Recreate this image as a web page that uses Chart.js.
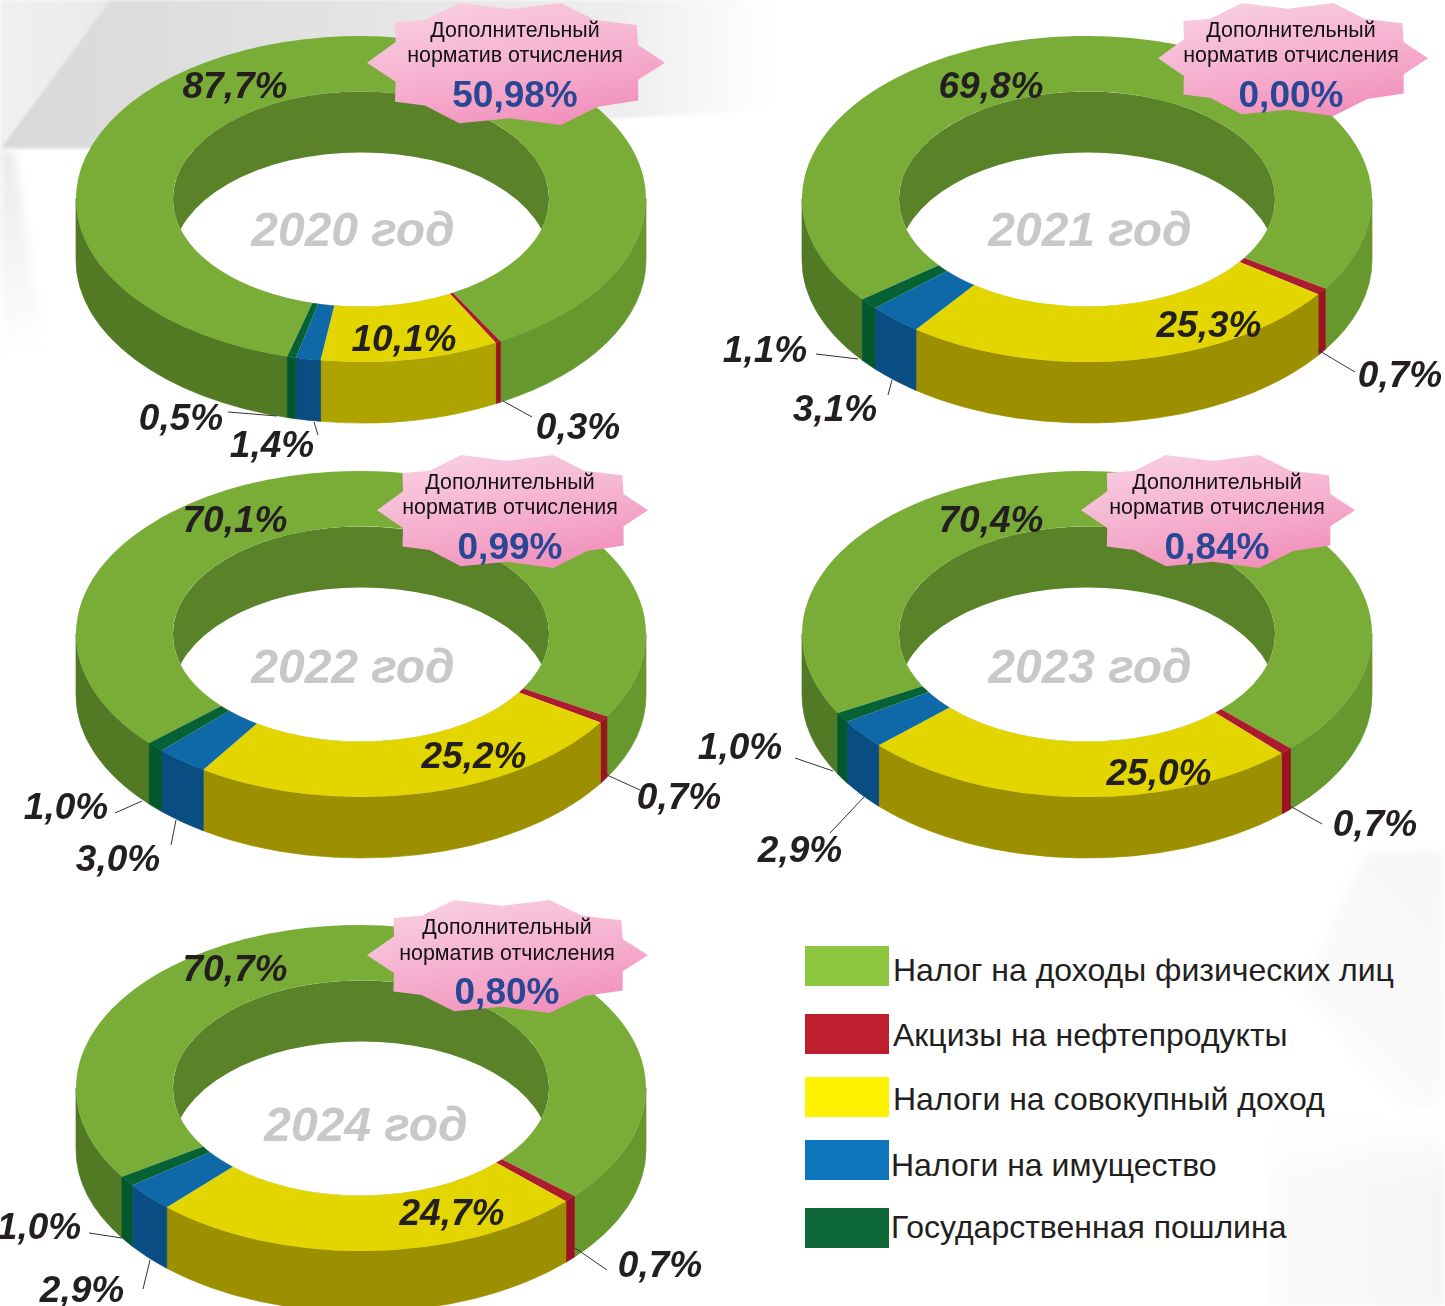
<!DOCTYPE html>
<html lang="ru">
<head>
<meta charset="utf-8">
<title>Налоговые доходы</title>
<script src="https://cdn.jsdelivr.net/npm/chart.js@4"></script>
<style>
  html, body { margin: 0; padding: 0; background: #fff; }
  #page { position: relative; width: 1445px; height: 1306px; overflow: hidden; background: #fff; font-family: "Liberation Sans", Arial, sans-serif; }
  .bg { position: absolute; }
  .bg div { width: 100%; height: 100%; }
  canvas { position: absolute; }
  .star { position: absolute; background: linear-gradient(170deg, #f9d3e4 0%, #f5aecd 55%, #f086b6 100%);
    clip-path: polygon(0% 49%, 9.6% 32%, 9.4% 16%, 19.4% 14%, 31% 0%, 48% 5%, 65% 0%, 76.5% 14%, 90.5% 18%, 91% 34.5%, 100% 49%, 91% 63%, 91% 80%, 77.5% 85%, 65% 100%, 48% 94.5%, 31% 98.5%, 19.4% 84%, 9.4% 81%, 9.6% 64.5%); }
  .note { position: absolute; transform: translate(-50%, -50%); white-space: nowrap; color: #111; font-size: 21.4px; }
  .norm { position: absolute; transform: translate(-50%, -50%); white-space: nowrap; color: #2a4796; font-size: 37px; font-weight: bold; }
  .pct { position: absolute; transform: translate(-50%, -50%); white-space: nowrap; color: #231f20; font-size: 37px; font-weight: bold; font-style: italic; }
  .year { position: absolute; transform: translate(-50%, -50%); white-space: nowrap; color: #c8c8c8; font-size: 48px; font-weight: bold; font-style: italic; }
  .swatch { position: absolute; left: 805px; width: 84px; height: 40px; }
  .leg { position: absolute; transform: translateY(-50%); white-space: nowrap; color: #231f20; font-size: 32px; }
</style>
</head>
<body>
<div id="page">
  <div class="bg" style="left:0;top:0;width:120px;height:150px;filter:blur(1.5px)"><div style="background:linear-gradient(90deg,#f0f0f0,#e9e9e9);clip-path:polygon(0 0,92% 0,0 98%)"></div></div>
  <div class="bg" style="left:0;top:0;width:800px;height:150px;filter:blur(1.5px)"><div style="background:linear-gradient(90deg,#d8d8d8 0%,#e2e2e2 40%,#eeeeee 78%,#ffffff 97%);clip-path:polygon(13.7% 0,100% 0,100% 72%,11% 99%,0 99%)"></div></div>
  <div class="bg" style="left:0;top:150px;width:70px;height:210px;filter:blur(5px)"><div style="background:linear-gradient(180deg,#e9e9e9,#ffffff);clip-path:polygon(0 0,20% 0,65% 100%,0 100%)"></div></div>
  <div class="bg" style="left:1290px;top:850px;width:155px;height:265px;filter:blur(6px)"><div style="background:linear-gradient(225deg,#f6f6f6,#fafafa 60%,#ffffff);clip-path:polygon(100% 0,100% 98%,73% 98%,5% 55%,50% 0)"></div></div>
  <div class="bg" style="left:1270px;top:1110px;width:175px;height:196px;filter:blur(3px)"><div style="background:linear-gradient(90deg,#fbfbfb,#f5f5f5);-webkit-mask-image:linear-gradient(180deg,transparent,#000 40%);mask-image:linear-gradient(180deg,transparent,#000 40%)"></div></div>
</div>
<script>
const categories = ['Налог на доходы физических лиц', 'Акцизы на нефтепродукты', 'Налоги на совокупный доход', 'Налоги на имущество', 'Государственная пошлина'];
const years = ['2020 год', '2021 год', '2022 год', '2023 год', '2024 год'];

const values2020 = [87.7, 0.3, 10.1, 1.4, 0.5];
const values2021 = [69.8, 0.7, 25.3, 3.1, 1.1];
const values2022 = [70.1, 0.7, 25.2, 3.0, 1.0];
const values2023 = [70.4, 0.7, 25.0, 2.9, 1.0];
const values2024 = [70.7, 0.7, 24.7, 2.9, 1.0];
const extraNorms = ['50,98%', '0,00%', '0,99%', '0,84%', '0,80%'];
const noteTitle = ['Дополнительный', 'норматив отчисления'];

const legendColors = ['#8dc63f', '#be1e2d', '#fff200', '#0f75bc', '#0f6838'];
const topColors = ['#7aad37', '#ab1c2c', '#e3d500', '#0f68a8', '#066234'];
const innerWall = '#5a8228';

// layout of the five rings, page pixels
const R = 285, SQUASH = 0.572, DEPTH = 61, BOX = 600;
const rings = [
  { values: values2020, cx: 361, cy: 199, rotation: 195, yellowWall: '#aea300', yearAt: [353, 229],
    star: [367, 3, 298, 122], noteAt: [515, 30, 55, 95],
    labels: [[235, 86], [578, 427], [404, 339], [272, 445], [181, 418]],
    leaders: [[503, 401, 532, 417], [314, 422, 318, 435], [228, 412, 277, 416]] },
  { values: values2021, cx: 1087, cy: 199, rotation: 232, yellowWall: '#9c9000', yearAt: [1090, 229],
    star: [1158, 3, 270, 113], noteAt: [1291, 30, 55, 95],
    labels: [[991, 86], [1400, 375], [1209, 325], [835, 409], [765, 350]],
    leaders: [[1318, 350, 1355, 372], [892, 380, 888, 395], [816, 354, 858, 359]] },
  { values: values2022, cx: 361, cy: 634, rotation: 228, yellowWall: '#9c9000', yearAt: [353, 666],
    star: [377, 455, 271, 113], noteAt: [510, 482, 507, 547],
    labels: [[235, 520], [679, 797], [474, 756], [118, 859], [66, 807]],
    leaders: [[607, 775, 640, 790], [176, 820, 171, 845], [115, 813, 142, 801]] },
  { values: values2023, cx: 1087, cy: 634, rotation: 241, yellowWall: '#9c9000', yearAt: [1090, 666],
    star: [1081, 455, 274, 113], noteAt: [1217, 482, 507, 547],
    labels: [[991, 520], [1375, 824], [1159, 773], [800, 850], [740, 747]],
    leaders: [[1290, 806, 1322, 824], [864, 797, 830, 833], [795, 758, 833, 771]] },
  { values: values2024, cx: 361, cy: 1088, rotation: 237, yellowWall: '#9c9000', yearAt: [366, 1124],
    star: [367, 900, 281, 113], noteAt: [507, 927, 953, 992],
    labels: [[235, 969], [660, 1265], [452, 1213], [82, 1290], [39, 1227]],
    leaders: [[575, 1248, 607, 1270], [150, 1260, 143, 1289], [89, 1233, 122, 1238]] }
];

const legendRows = [
  { top: 946, textX: 893, textY: 970 },
  { top: 1014, textX: 893, textY: 1035 },
  { top: 1077, textX: 893, textY: 1099 },
  { top: 1140, textX: 891, textY: 1165 },
  { top: 1208, textX: 891, textY: 1227 }
];

const page = document.getElementById('page');

function addText(cls, text, x, y) {
  const el = document.createElement('div');
  el.className = cls;
  el.textContent = text;
  el.style.left = x + 'px';
  el.style.top = y + 'px';
  page.appendChild(el);
  return el;
}

// extrudes the doughnut and flattens the library's own draw of the top face
const ring3d = {
  id: 'ring3d',
  beforeDatasetsDraw(chart, args, opts) {
    const ctx = chart.ctx;
    const arcs = chart.getDatasetMeta(0).data;
    const cx = arcs[0].x, cy = arcs[0].y;
    const inner = arcs[0].innerRadius;

    const green = ctx.createLinearGradient(cx - R, 0, cx + R, 0);
    green.addColorStop(0, '#527a24');
    green.addColorStop(0.45, '#527a24');
    green.addColorStop(0.75, '#66982e');
    green.addColorStop(1, '#66982e');
    const walls = [green, '#9b1321', opts.yellowWall, '#0a4d82', '#03572c'];

    // outer wall, only the front half of each slice can be seen
    arcs.forEach((arc, i) => {
      const ry = arc.outerRadius * SQUASH;
      for (let k = -1; k <= 2; k++) {
        const lo = Math.max(arc.startAngle, k * 2 * Math.PI);
        const hi = Math.min(arc.endAngle, k * 2 * Math.PI + Math.PI);
        if (hi <= lo) continue;
        ctx.beginPath();
        ctx.ellipse(cx, cy, arc.outerRadius, ry, 0, lo, hi);
        ctx.ellipse(cx, cy + DEPTH, arc.outerRadius, ry, 0, hi, lo, true);
        ctx.closePath();
        ctx.fillStyle = walls[i];
        ctx.strokeStyle = walls[i];
        ctx.lineWidth = 0.7;
        ctx.fill();
        ctx.stroke();
      }
    });

    // back wall seen through the hole, then the see-through part
    ctx.save();
    ctx.beginPath();
    ctx.ellipse(cx, cy, inner, inner * SQUASH, 0, 0, Math.PI * 2);
    ctx.clip();
    ctx.fillStyle = innerWall;
    ctx.fillRect(cx - R, cy - R, R * 2, R * 2);
    ctx.globalCompositeOperation = 'destination-out';
    ctx.beginPath();
    ctx.ellipse(cx, cy + DEPTH, inner, inner * SQUASH, 0, 0, Math.PI * 2);
    ctx.fillStyle = '#000';
    ctx.fill();
    ctx.restore();

    ctx.save();
    ctx.translate(cx, cy);
    ctx.scale(1, SQUASH);
    ctx.translate(-cx, -cy);
  },
  afterDatasetsDraw(chart) {
    chart.ctx.restore();
  },
  afterDraw(chart, args, opts) {
    const ctx = chart.ctx;
    ctx.save();
    ctx.strokeStyle = '#333';
    ctx.lineWidth = 1;
    opts.leaders.forEach(l => {
      ctx.beginPath();
      ctx.moveTo(l[0] - opts.left, l[1] - opts.top);
      ctx.lineTo(l[2] - opts.left, l[3] - opts.top);
      ctx.stroke();
    });
    ctx.restore();
  }
};

rings.forEach(ring => {
  const canvas = document.createElement('canvas');
  const left = ring.cx - BOX / 2, top = ring.cy - BOX / 2;
  canvas.width = BOX;
  canvas.height = BOX;
  canvas.style.left = left + 'px';
  canvas.style.top = top + 'px';
  page.appendChild(canvas);

  new Chart(canvas, {
    type: 'doughnut',
    data: {
      labels: categories,
      datasets: [{ data: ring.values, backgroundColor: topColors, borderWidth: 0 }]
    },
    options: {
      responsive: false,
      animation: false,
      rotation: ring.rotation,
      radius: R,
      cutout: '66%',
      layout: { padding: 0 },
      plugins: {
        legend: { display: false },
        tooltip: { enabled: false },
        ring3d: { yellowWall: ring.yellowWall, leaders: ring.leaders, left: left, top: top }
      }
    },
    plugins: [ring3d]
  });
});

rings.forEach((ring, n) => {
  const star = document.createElement('div');
  star.className = 'star';
  star.style.left = ring.star[0] + 'px';
  star.style.top = ring.star[1] + 'px';
  star.style.width = ring.star[2] + 'px';
  star.style.height = ring.star[3] + 'px';
  page.appendChild(star);

  addText('note', noteTitle[0], ring.noteAt[0], ring.noteAt[1]);
  addText('note', noteTitle[1], ring.noteAt[0], ring.noteAt[2]);
  addText('norm', extraNorms[n], ring.noteAt[0], ring.noteAt[3]);

  addText('year', years[n], ring.yearAt[0], ring.yearAt[1]);

  ring.values.forEach((v, i) => {
    addText('pct', v.toFixed(1).replace('.', ',') + '%', ring.labels[i][0], ring.labels[i][1]);
  });
});

categories.forEach((name, i) => {
  const sw = document.createElement('div');
  sw.className = 'swatch';
  sw.style.top = legendRows[i].top + 'px';
  sw.style.background = legendColors[i];
  page.appendChild(sw);
  addText('leg', name, legendRows[i].textX, legendRows[i].textY);
});
</script>
</body>
</html>
